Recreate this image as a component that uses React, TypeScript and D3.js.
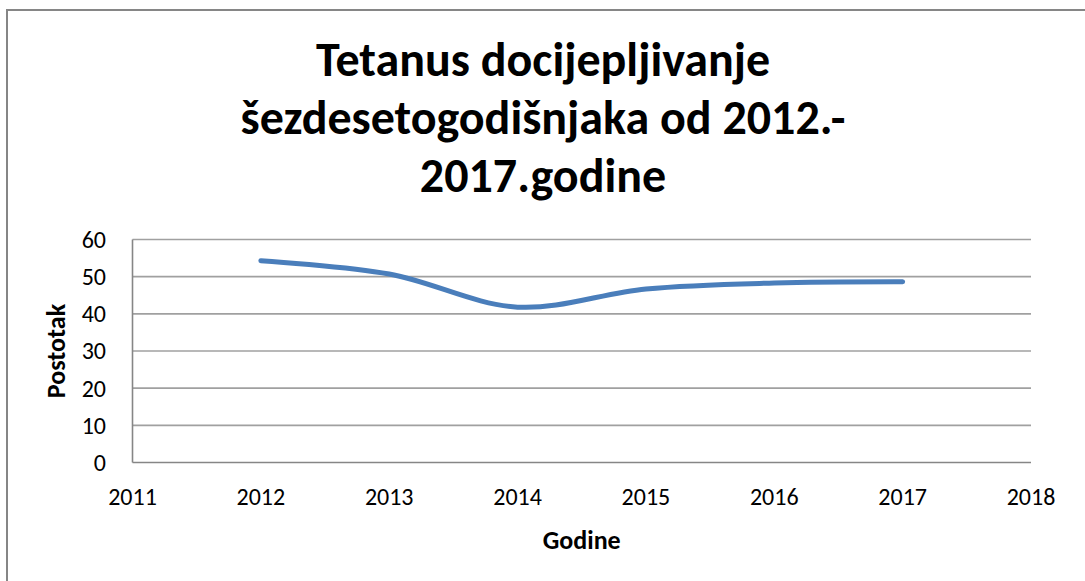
import React from "react";
import * as d3 from "d3";

const years = [2012, 2013, 2014, 2015, 2016, 2017];
const values = [54.3, 50.7, 41.8, 46.7, 48.3, 48.6];
const xTicks = [2011, 2012, 2013, 2014, 2015, 2016, 2017, 2018];
const yTicks = [0, 10, 20, 30, 40, 50, 60];
const titleLines = ["Tetanus docijepljivanje", "šezdesetogodišnjaka od 2012.-", "2017.godine"];
const xLabel = "Godine";
const yLabel = "Postotak";

const W = 1085;
const H = 581;
const left = 132.5;
const right = 1031;
const top = 239.5;
const bottom = 462.5;
const FONT = "Carlito, Lato, 'Open Sans', sans-serif";

export default function App() {
  const x = d3.scaleLinear().domain([2011, 2018]).range([left, right]);
  const y = d3.scaleLinear().domain([0, 60]).range([bottom, top]);
  const line = d3
    .line<number>()
    .x((_, i) => x(years[i]))
    .y((d) => y(d))
    .curve(d3.curveCatmullRom.alpha(0.5));

  return (
    <svg
      width={W}
      height={H}
      style={{ position: "absolute", left: 0, top: 0, background: "#fff" }}
    >
      <rect x={7} y={10} width={W + 20} height={H + 20} fill="#fff" stroke="#868686" strokeWidth={2} />
      {titleLines.map((t, i) => (
        <text
          key={i}
          x={543}
          y={76 + i * 58}
          textAnchor="middle"
          fontFamily={FONT}
          fontWeight="bold"
          fontSize={48}
          fill="#000"
        >
          {t}
        </text>
      ))}
      {yTicks.map((t) => (
        <g key={t}>
          {t > 0 && (
            <line x1={left} x2={right} y1={y(t)} y2={y(t)} stroke="#a0a0a0" strokeWidth={1.6} />
          )}
          <text
            x={106}
            y={y(t)}
            dy="0.35em"
            textAnchor="end"
            fontFamily={FONT}
            fontSize={24}
            fill="#000"
          >
            {t}
          </text>
        </g>
      ))}
      <line x1={left} x2={left} y1={top} y2={bottom} stroke="#868686" strokeWidth={1.6} />
      <line x1={left} x2={right} y1={bottom} y2={bottom} stroke="#868686" strokeWidth={1.6} />
      {xTicks.map((t) => (
        <text
          key={t}
          x={x(t)}
          y={497}
          dy="0.35em"
          textAnchor="middle"
          fontFamily={FONT}
          fontSize={24}
          fill="#000"
        >
          {t}
        </text>
      ))}
      <text
        x={(left + right) / 2}
        y={540}
        dy="0.35em"
        textAnchor="middle"
        fontFamily={FONT}
        fontWeight="bold"
        fontSize={26}
        fill="#000"
      >
        {xLabel}
      </text>
      <text
        transform={`translate(56,${(top + bottom) / 2}) rotate(-90)`}
        dy="0.35em"
        textAnchor="middle"
        fontFamily={FONT}
        fontWeight="bold"
        fontSize={26}
        fill="#000"
      >
        {yLabel}
      </text>
      <path
        d={line(values) || ""}
        fill="none"
        stroke="#4a7ebb"
        strokeWidth={5}
        strokeLinecap="round"
        strokeLinejoin="round"
      />
    </svg>
  );
}
